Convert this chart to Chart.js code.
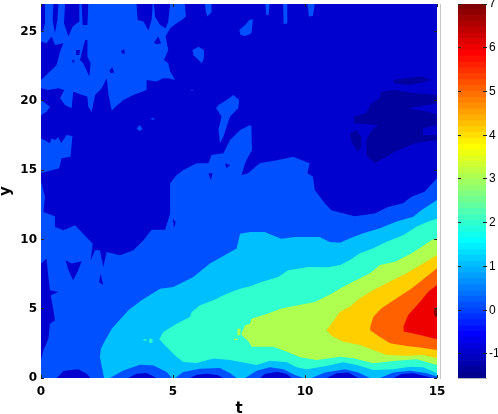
<!DOCTYPE html>
<html>
<head>
<meta charset="utf-8">
<title>Contour t y</title>
<script src="https://cdn.jsdelivr.net/npm/chart.js@4/dist/chart.umd.min.js"></script>
<style>
    body { margin: 0; background: #fff; overflow: hidden; }
    canvas { position: absolute; top: 0; }
    #contour { left: 0; }
    #colorbar { left: 440px; }
</style>
</head>
<body>
<canvas id="contour" width="498" height="414"></canvas>
<canvas id="colorbar" width="58" height="414"></canvas>
<script>
// Axis ticks
const tTicks = [0, 5, 10, 15];
const yTicks = [0, 5, 10, 15, 20, 25];
const cbarTicks = [-1, 0, 1, 2, 3, 4, 5, 6, 7];

// Contour regions as [t, y] outlines
const plotBox = [[0, 0], [15, 0], [15, 27], [0, 27]];

const upperLobe = [[0, 27], [5.45, 27], [5.49, 26.09], [5.33, 25.85], [5.14, 25.61], [4.89, 25.25], [4.72, 24.65], [4.82, 23.68], [4.66, 22.96], [4.82, 22.72], [4.89, 22.12], [5.08, 21.52], [4.82, 21.64], [4.63, 21.64], [4.38, 21.4], [4, 21.52], [4, 20.79], [3.5, 20.43], [3.12, 20.07], [2.8, 19.54], [2.68, 19.3], [2.55, 20.55], [2.49, 21.64], [2.3, 20.91], [2.05, 20.43], [1.92, 19.23], [1.79, 19.59], [1.76, 20.31], [1.22, 20.67], [1.16, 19.47], [0.91, 19.71], [0.72, 20.19], [0.88, 20.79], [0.66, 20.91], [0.28, 20.79], [0, 20.91]];
const leftPatch = [[0, 20.07], [0.34, 19.59], [0.21, 19.23], [0, 18.99]];
const leftIsland = [[0, 17.3], [0.34, 16.94], [0.4, 17.3], [0.53, 17.18], [0.66, 17.38], [0.76, 16.94], [0.97, 17.55], [1.19, 17.47], [1.12, 15.98], [0.78, 15.86], [0.69, 15.14], [0.09, 14.83], [0, 14.83]];
const midStreak = [[6.72, 19.71], [7.03, 20.07], [7.29, 20.43], [7.51, 20.07], [7.47, 19.47], [7.16, 18.87], [6.91, 17.42], [6.78, 16.94], [6.72, 17.91], [6.84, 18.87], [6.63, 19.47]];
const blobA = [[5.74, 23.68], [5.96, 23.92], [6.17, 23.68], [6.17, 23.08], [6.09, 22.72], [5.9, 23.08], [5.77, 23.32]];
const blobB = [[7.51, 25.13], [7.73, 25.49], [7.89, 25.85], [8.03, 25.9], [7.97, 24.89], [7.84, 24.77], [7.73, 24.69], [7.56, 24.77]];
const blobC = [[3.62, 18.03], [3.75, 18.27], [3.85, 17.95], [3.72, 17.83]];
const blobD = [[4.13, 18.72], [4.32, 18.77], [4.25, 18.63]];
const blobE = [[5.67, 20.79], [5.77, 20.79], [5.72, 20.7]];
const topStreakA = [[6.21, 27], [6.46, 27], [6.46, 26.4], [6.3, 26.1], [6.25, 26.4]];
const topStreakB = [[8.5, 27], [8.66, 27], [8.62, 26.2], [8.53, 26.2]];
const topStreakC = [[9.17, 27], [9.33, 27], [9.33, 25.6], [9.19, 25.56]];
const topStreakD = [[10.09, 27], [10.37, 27], [10.3, 26.14], [10.15, 26.09]];

const lowerBody = [[0, 14.18], [0.15, 13.09], [0.09, 11.99], [0.53, 11.67], [0.53, 10.9], [0.72, 10.78], [0.85, 10.66], [1.29, 11.02], [1.6, 10.42], [1.96, 9.7], [1.88, 8.5], [2.05, 9.22], [2.23, 9.22], [2.36, 8.01], [2.49, 9.1], [2.99, 8.86], [3.5, 9.22], [3.88, 9.94], [4.19, 10.71], [4.7, 10.71], [4.89, 11.87], [4.89, 14.06], [5.14, 14.66], [5.39, 15.02], [5.9, 15.5], [6.34, 15.5], [6.46, 16.1], [6.91, 16.22], [7.16, 17.18], [7.54, 17.91], [7.92, 18.27], [7.97, 18.15], [7.99, 16.46], [7.85, 15.98], [7.73, 15.5], [7.6, 14.66], [7.84, 14.78], [8.28, 15.5], [8.98, 15.74], [9.55, 15.98], [10.18, 15.5], [10.09, 14.78], [10.3, 14.54], [10.37, 13.57], [10.75, 12.61], [11, 12.11], [11.88, 11.67], [12.64, 11.87], [13.14, 12.35], [13.71, 12.61], [14.03, 13.09], [14.53, 13.45], [15, 14.42], [15, 0], [0, 0]];

// Darker cuts in the lighter blue regions
const cutA = [[0, 27], [0.15, 27], [0.15, 25.61], [0.09, 25.13], [0, 25]];
const cutB = [[0, 24.28], [0.21, 24.16], [0.4, 24.65], [0.53, 24.04], [0.85, 24.16], [0.72, 23.56], [0.59, 22.6], [0.34, 22.12], [0, 21.52]];
const cutC = [[0.47, 27], [0.66, 27], [0.62, 25.85], [0.53, 24.89], [0.44, 25.85]];
const cutD = [[0.91, 27], [1.45, 27], [1.45, 25.73], [1.2, 25.37], [1.04, 24.65], [0.87, 25.61]];
const cutE = [[1.54, 27], [1.79, 27], [1.76, 25.49], [1.58, 25.49]];
const cutF = [[3.62, 27], [4.23, 27], [4.19, 25.85], [4.07, 25.08], [3.88, 25.73], [3.66, 25.85]];
const cutG = [[4.28, 27], [4.89, 27], [4.82, 25.73], [4.72, 25.25], [4.51, 25.49], [4.32, 26.09]];
const cutH = [[1.67, 24.4], [1.76, 24.4], [1.76, 23.2], [1.88, 22.72], [1.83, 21.76], [1.6, 22.72], [1.48, 22.96], [1.57, 23.68]];
const cutI = [[4.28, 24.21], [4.44, 24.65], [4.55, 24.16], [4.38, 24.09]];
const cutJ = [[3.02, 23.56], [3.14, 23.75], [3.19, 23.39], [3.08, 23.44]];
const cutK = [[2.59, 22.19], [2.7, 22.43], [2.77, 22.05], [2.64, 22]];
const cutL = [[1.33, 23.68], [1.48, 23.68], [1.45, 23.32], [1.33, 23.32]];
const cutM = [[1.17, 22.96], [1.28, 22.91], [1.22, 22.72]];
const heart = [[0.93, 8.5], [1.16, 8.26], [1.54, 8.42], [1.41, 7.77], [1.22, 7.05], [1.04, 7.77]];
const spike = [[2.2, 6.93], [2.26, 7.53], [2.36, 6.69]];
const leftStrip = [[0, 8.26], [0.21, 8.62], [0.28, 7.29], [0.34, 6.33], [0.66, 6.21], [0.37, 5.97], [0.47, 4.89], [0.53, 4.16], [0.34, 3.92], [0.28, 2.84], [0.09, 2], [0, 1.28]];
const speckA = [[4.99, 11.5], [5.11, 11.26], [5.04, 10.85]];
const speckB = [[6.34, 14.78], [6.5, 14.78], [6.43, 14.3]];
const speckC = [[6.97, 15.5], [7.16, 15.38], [7.03, 15.14]];

// Lowest level, right hand side
const lowMain = [[12.89, 20.67], [13.4, 20.79], [14.15, 20.55], [15, 20.43], [15, 19.83], [13.9, 19.47], [14.66, 19.23], [15, 18.99], [15, 18.27], [14.47, 18.03], [14.47, 17.55], [15, 17.55], [15, 17.18], [14.15, 16.94], [13.4, 16.34], [12.64, 15.5], [12.32, 16.1], [12.32, 17.18], [12.49, 17.79], [12.77, 18.27], [11.88, 18.39], [11.86, 18.87], [12.32, 19.11], [12.51, 19.83], [12.83, 20.19]];
const lowBlob = [[11.69, 17.67], [11.95, 17.91], [12.13, 17.42], [12.13, 16.7], [12, 16.34], [11.76, 17.06]];
const lowStreak = [[13.33, 21.52], [13.77, 21.64], [14.41, 21.76], [14.78, 21.52], [14.41, 21.32], [13.9, 21.16], [13.4, 21.28]];

// Warm core, from the outer band inwards
const bandCyan = [[2.39, 0], [2.23, 1.52], [2.27, 2.12], [2.36, 2.48], [2.68, 3.56], [3.31, 4.89], [3.81, 5.61], [4.51, 6.45], [5.01, 6.57], [5.77, 7.29], [6.4, 8.26], [7.41, 9.34], [7.54, 10.42], [7.92, 10.54], [8.47, 10.54], [9.1, 10.06], [9.61, 10.18], [10.56, 10.18], [10.93, 9.82], [11.33, 9.77], [11.7, 10.08], [12.21, 10.45], [12.84, 10.81], [13.47, 11.29], [14.1, 11.65], [14.42, 12.13], [15, 12.85], [15, 0]];
const bandTeal = [[4.48, 2.79], [4.63, 3.32], [5.14, 3.92], [5.64, 4.4], [5.71, 4.77], [6.02, 5.25], [6.53, 5.61], [7.03, 6.09], [7.54, 6.45], [7.92, 6.62], [8.35, 6.93], [8.98, 7.29], [9.36, 7.77], [10.11, 8.01], [10.87, 8], [11.33, 8.16], [11.7, 8.52], [12.08, 9], [12.59, 9.36], [13.09, 9.84], [13.73, 10.32], [14.23, 10.93], [14.67, 11.29], [15, 11.5], [15, 0.34], [14.48, 0.77], [13.98, 0.82], [13.35, 0.63], [12.59, 0.58], [11.96, 0.94], [11.45, 1.13], [10.82, 0.87], [10.06, 0.63], [9.68, 0.77], [9.31, 1.13], [8.67, 1.25], [8.17, 0.94], [7.79, 1.06], [7.16, 1.3], [6.53, 1.4], [5.9, 1.08], [5.39, 1.16], [5.14, 1.52], [4.76, 2.24]];
const bandLime = [[7.6, 3.25], [7.73, 3.8], [7.92, 3.92], [7.97, 4.28], [8.6, 4.65], [9.1, 5.01], [9.73, 5.25], [10.37, 5.49], [11, 6.09], [11.33, 6.47], [11.83, 6.96], [12.46, 7.56], [12.84, 8.16], [13.41, 8.4], [14.04, 9], [14.42, 9.48], [14.8, 9.96], [15, 10.08], [15, 0.94], [14.23, 1.35], [13.47, 1.25], [12.59, 1.06], [11.83, 1.42], [11.33, 1.54], [10.44, 1.3], [9.81, 1.49], [9.31, 1.9], [8.8, 2.26], [7.98, 2.26], [7.85, 2.67], [7.6, 3.08]];
const bandGold = [[10.82, 3.47], [11, 3.92], [11.33, 4.79], [11.7, 5.15], [12.08, 5.75], [12.59, 6.35], [13.22, 6.96], [13.85, 7.56], [14.49, 8.28], [15, 8.88], [15, 1.42], [14.48, 1.66], [13.85, 1.61], [13.09, 1.66], [12.59, 2.02], [12.08, 2.38], [11.45, 2.62], [11.01, 3.03]];
const bandOrange = [[12.49, 3.83], [12.59, 4.43], [12.9, 5.03], [13.47, 5.75], [14.04, 6.47], [14.61, 7.32], [15, 7.92], [15, 2.02], [14.36, 2.21], [13.85, 2.31], [13.22, 2.5], [12.78, 3.03], [12.46, 3.47]];
const bandRed = [[13.73, 3.71], [13.91, 4.55], [14.36, 5.51], [14.67, 6.23], [15, 6.71], [15, 2.79], [14.36, 3.1], [13.74, 3.35]];
const bandPeak = [[14.88, 4.89], [15, 5.13], [15, 4.36], [14.9, 4.52]];
const tealSpeckA = [[3.88, 2.7], [4, 2.7], [4, 2.8], [3.88, 2.8]];
const tealSpeckB = [[4.1, 2.53], [4.22, 2.53], [4.22, 2.84], [4.1, 2.84]];
const limeSpeckA = [[7.31, 2.74], [7.45, 2.74], [7.45, 2.84], [7.31, 2.84]];
const limeSpeckB = [[7.44, 3.08], [7.55, 3.08], [7.55, 3.56], [7.44, 3.56]];

// Dips along y = 0
const domeA = [[2.61, 0], [3.12, 0.55], [3.75, 0.96], [4.26, 0.91], [4.76, 0.43], [4.96, 0]];
const domeB = [[5.08, 0], [5.39, 0.43], [6.02, 0.67], [6.78, 0.72], [7.16, 0.34], [7.41, 0]];
const domeC = [[7.73, 0], [8.17, 0.53], [8.67, 0.77], [9.18, 0.63], [9.62, 0.22], [9.94, 0]];
const domeD = [[10.25, 0], [10.76, 0.39], [11.52, 0.63], [12.02, 0.39], [12.46, 0]];
const domeE = [[12.84, 0], [13.35, 0.39], [13.98, 0.53], [14.61, 0.34], [15, 0.1], [15, 0]];
const coreA = [[0.6, 0], [0.85, 0.51], [1.41, 0.63], [1.73, 0.31], [1.88, 0]];
const coreB = [[3.31, 0], [3.62, 0.31], [4, 0.36], [4.38, 0]];
const coreC = [[5.64, 0], [5.9, 0.24], [6.28, 0.31], [6.72, 0.19], [6.88, 0]];
const coreD = [[8.3, 0], [8.48, 0.29], [8.93, 0.46], [9.31, 0.29], [9.49, 0]];
const coreE = [[10.82, 0], [11.2, 0.34], [11.64, 0.39], [12.02, 0]];
const coreF = [[13.35, 0], [13.66, 0.29], [14.11, 0.34], [14.61, 0.1], [14.8, 0]];

// Colour bar bands: value edges of the 64 colour steps
const cbarEdges = [-1.55, -1.42, -1.28, -1.15, -1.02, -0.88, -0.75, -0.61, -0.48, -0.35, -0.21, -0.08, 0.05, 0.19, 0.32, 0.45, 0.59, 0.72, 0.86, 0.99, 1.12, 1.26, 1.39, 1.53, 1.66, 1.79, 1.93, 2.06, 2.19, 2.33, 2.46, 2.6, 2.73, 2.86, 3, 3.13, 3.26, 3.4, 3.53, 3.67, 3.8, 3.93, 4.07, 4.2, 4.33, 4.47, 4.6, 4.74, 4.87, 5, 5.14, 5.27, 5.41, 5.54, 5.67, 5.81, 5.94, 6.07, 6.21, 6.34, 6.48, 6.61, 6.74, 6.88, 7];

const cbarColors = [
    '#00008f', '#00009f', '#0000af', '#0000bf', '#0000cf', '#0000df', '#0000ef', '#0000ff',
    '#0010ff', '#0020ff', '#0030ff', '#0040ff', '#0050ff', '#0060ff', '#0070ff', '#0080ff',
    '#008fff', '#009fff', '#00afff', '#00bfff', '#00cfff', '#00dfff', '#00efff', '#00ffff',
    '#10ffef', '#20ffdf', '#30ffcf', '#40ffbf', '#50ffaf', '#60ff9f', '#70ff8f', '#80ff80',
    '#8fff70', '#9fff60', '#afff50', '#bfff40', '#cfff30', '#dfff20', '#efff10', '#ffff00',
    '#ffef00', '#ffdf00', '#ffcf00', '#ffbf00', '#ffaf00', '#ff9f00', '#ff8f00', '#ff8000',
    '#ff7000', '#ff6000', '#ff5000', '#ff4000', '#ff3000', '#ff2000', '#ff1000', '#ff0000',
    '#ef0000', '#df0000', '#cf0000', '#bf0000', '#af0000', '#9f0000', '#8f0000', '#800000'
];

const colorLow = '#00009f';
const colorDeep = '#0000cf';
const colorBlue = '#0050ff';
const colorCyan = '#00bfff';
const colorTeal = '#30ffcf';
const colorLime = '#afff50';
const colorGold = '#ffcf00';
const colorOrange = '#ff6000';
const colorRed = '#ef0000';
const colorPeak = '#800000';

// Painter's order: later entries sit on top
const layers = [
    [colorDeep, [plotBox]],
    [colorBlue, [upperLobe, leftPatch, leftIsland, midStreak, blobA, blobB, blobC, blobD, blobE, topStreakA, topStreakB, topStreakC, topStreakD, lowerBody]],
    [colorDeep, [cutA, cutB, cutC, cutD, cutE, cutF, cutG, cutH, cutI, cutJ, cutK, cutL, cutM, heart, spike, leftStrip, speckA, speckB, speckC]],
    [colorLow, [lowMain, lowBlob, lowStreak]],
    [colorCyan, [bandCyan]],
    [colorBlue, [domeA, domeB, domeC, domeD, domeE]],
    [colorDeep, [coreA, coreB, coreC, coreD, coreE, coreF]],
    [colorTeal, [bandTeal, tealSpeckA, tealSpeckB]],
    [colorLime, [bandLime, limeSpeckA, limeSpeckB]],
    [colorGold, [bandGold]],
    [colorOrange, [bandOrange]],
    [colorRed, [bandRed]],
    [colorPeak, [bandPeak]]
];

const tickColor = '#222';
const TICK_IN = -3;

/**
 * Inward tick marks only, MATLAB style
 */
function tickGrid() {
    return { drawOnChartArea: false, drawTicks: true, tickLength: TICK_IN, tickWidth: 1, tickColor: tickColor, z: 1 };
}

// Zero out the scale padding so the label overhang does not move the plot area
function clearPadding(scale) {
    scale.paddingTop = 0;
    scale.paddingBottom = 0;
    scale.paddingLeft = 0;
    scale.paddingRight = 0;
}

function fixedWidth(w) {
    return scale => { scale.width = w; clearPadding(scale); };
}

function fixedHeight(h) {
    return scale => { scale.height = h; clearPadding(scale); };
}

function useTicks(list) {
    return scale => { scale.ticks = list.map(v => ({ value: v })); };
}

// Flatten the layers into one dataset per outline
const outlines = [];
layers.forEach(([color, shapes]) => {
    shapes.forEach(shape => outlines.push({ color, shape }));
});

new Chart(document.getElementById('contour'), {
    type: 'scatter',
    data: {
        datasets: outlines.map((item, i) => ({
            data: item.shape.map(p => ({ x: p[0], y: p[1] })),
            showLine: true,
            fill: 'shape',
            backgroundColor: item.color,
            borderColor: 'transparent',
            borderWidth: 0,
            pointRadius: 0,
            tension: 0,
            order: outlines.length - i
        }))
    },
    options: {
        responsive: false,
        animation: false,
        events: [],
        plugins: { legend: { display: false }, tooltip: { enabled: false } },
        layout: { padding: 0 },
        scales: {
            x: {
                type: 'linear',
                min: 0,
                max: 15,
                afterBuildTicks: useTicks(tTicks),
                afterFit: fixedHeight(36),
                border: { display: false },
                grid: tickGrid(),
                ticks: { color: '#000', padding: 10, maxRotation: 0, autoSkip: false, font: { family: 'DejaVu Sans', size: 12, weight: 'bold' } },
                title: { display: true, text: 't', color: '#000', padding: { top: 0, bottom: -4 }, font: { family: 'DejaVu Sans', size: 15, weight: 'bold' } }
            },
            y: {
                type: 'linear',
                min: 0,
                max: 27,
                afterBuildTicks: useTicks(yTicks),
                afterFit: fixedWidth(41),
                border: { display: false },
                grid: tickGrid(),
                ticks: { color: '#000', padding: 7, autoSkip: false, font: { family: 'DejaVu Sans', size: 12, weight: 'bold' } },
                title: { display: true, text: 'y', color: '#000', padding: { top: -3, bottom: 0 }, font: { family: 'DejaVu Sans', size: 15, weight: 'bold' } }
            },
            xTop: {
                type: 'linear',
                position: 'top',
                min: 0,
                max: 15,
                afterBuildTicks: useTicks(tTicks),
                afterFit: fixedHeight(4),
                border: { display: false },
                grid: tickGrid(),
                ticks: { display: false }
            },
            yRight: {
                type: 'linear',
                position: 'right',
                min: 0,
                max: 27,
                afterBuildTicks: useTicks(yTicks),
                afterFit: fixedWidth(61),
                border: { display: false },
                grid: tickGrid(),
                ticks: { display: false }
            }
        }
    }
});

// Colour bar on its own canvas
new Chart(document.getElementById('colorbar'), {
    type: 'bar',
    data: {
        labels: ['level'],
        datasets: cbarColors.map((color, i) => ({
            data: [[cbarEdges[i], cbarEdges[i + 1]]],
            backgroundColor: color,
            borderWidth: 0,
            grouped: false,
            barPercentage: 1,
            categoryPercentage: 1
        }))
    },
    options: {
        responsive: false,
        animation: false,
        events: [],
        plugins: { legend: { display: false }, tooltip: { enabled: false } },
        layout: { padding: { top: 4 } },
        scales: {
            x: {
                afterFit: fixedHeight(36),
                border: { display: true, color: '#b4b4b4' },
                grid: { display: false },
                ticks: { display: false }
            },
            y: {
                position: 'right',
                min: -1.55,
                max: 7,
                afterBuildTicks: useTicks(cbarTicks),
                afterFit: fixedWidth(12),
                border: { display: true, color: '#b4b4b4' },
                grid: tickGrid(),
                ticks: { color: '#000', padding: 6, autoSkip: false, font: { family: 'Liberation Sans', size: 12 } }
            },
            yLeft: {
                type: 'linear',
                position: 'left',
                min: -1.55,
                max: 7,
                afterBuildTicks: useTicks(cbarTicks),
                afterFit: fixedWidth(18),
                border: { display: true, color: '#b4b4b4' },
                grid: tickGrid(),
                ticks: { display: false }
            }
        }
    }
});
</script>
</body>
</html>
